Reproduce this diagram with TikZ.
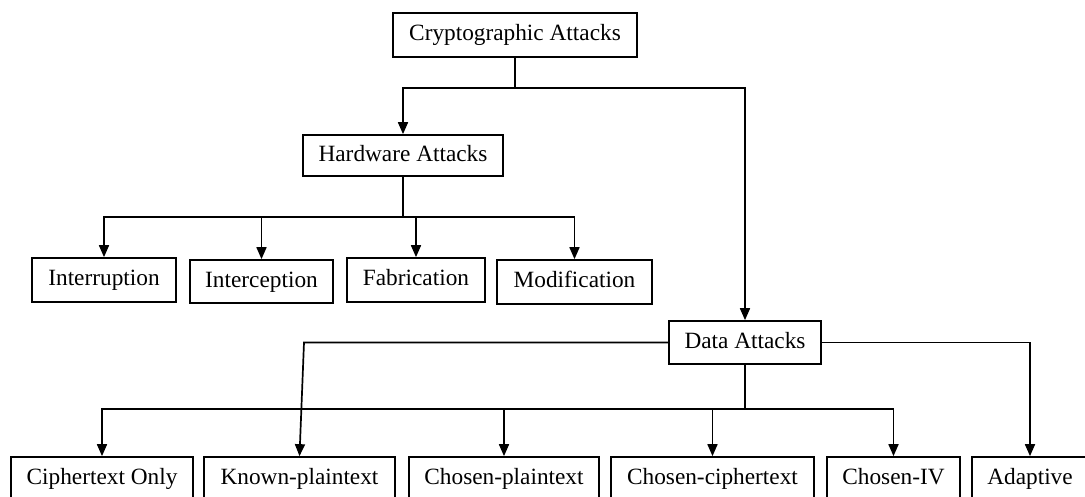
\documentclass[tikz,border=0pt]{standalone}
\usepackage{fontspec}
\setmainfont{Liberation Serif}
\usetikzlibrary{arrows.meta}

\tikzset{
  box/.style={draw, line width=1.7pt, inner sep=0pt, text height=16pt, text depth=5pt,
              minimum height=44pt, font=\fontsize{23.3}{28}\selectfont},
  link/.style={line width=1.7pt, -{Triangle[length=12pt,width=10pt]}},
  trunk/.style={line width=1.7pt}
}

\begin{document}
\begin{tikzpicture}[x=1pt,y=-1pt]
  \useasboundingbox (0,0) rectangle (1085,496);
  \clip (0,0) rectangle (1085,496);

  % root and first level
  \node[box, minimum width=244pt] (crypto) at (515,35) {Cryptographic Attacks};
  \node[box, minimum width=200pt, minimum height=41pt] (hw) at (403,155.5) {Hardware Attacks};
  \node[box, minimum width=152pt, minimum height=43pt] (data) at (745,342.5) {Data Attacks};

  % hardware attack kinds
  \node[box, minimum width=144pt] (intr) at (104,280) {Interruption};
  \node[box, minimum width=143pt, minimum height=43pt] (intc) at (261.5,281.5) {Interception};
  \node[box, minimum width=138pt] (fab) at (416,280) {Fabrication};
  \node[box, minimum width=155pt] (mod) at (574.5,282) {Modification};

  % data attack kinds
  \node[box, minimum width=182pt] (cto) at (102,479) {Ciphertext Only};
  \node[box, minimum width=191pt] (kpt) at (299.5,479) {Known-plaintext};
  \node[box, minimum width=190pt] (cpt) at (504,479) {Chosen-plaintext};
  \node[box, minimum width=203pt] (cct) at (712.5,479) {Chosen-ciphertext};
  \node[box, minimum width=133pt] (civ) at (893.5,479) {Chosen-IV};
  \node[box, minimum width=116pt] (ada) at (1030,479) {Adaptive};

  % junction points
  \coordinate (cj) at (515,88);
  \coordinate (hj) at (403,217);
  \coordinate (dj) at (745,409);
  \coordinate (kbend) at (304,342.5);

  % root branches
  \draw[trunk] (crypto.south) -- (cj);
  \draw[link] (cj) -| (hw.north);
  \draw[link] (cj) -| (data.north);

  % hardware branches
  \draw[trunk] (hw.south) -- (hj);
  \draw[link] (hj) -| (intr.north);
  \draw[link] (hj) -| (intc.north);
  \draw[link] (hj) -| (fab.north);
  \draw[link] (hj) -| (mod.north);

  % data branches
  \draw[trunk] (data.south) -- (dj);
  \draw[link] (dj) -| (cto.north);
  \draw[link] (dj) -| (cpt.north);
  \draw[link] (dj) -| (cct.north);
  \draw[link] (dj) -| (civ.north);
  \draw[link] (data.west) -- (kbend) -- (kpt.north);
  \draw[link] (data.east) -| (ada.north);
\end{tikzpicture}
\end{document}
